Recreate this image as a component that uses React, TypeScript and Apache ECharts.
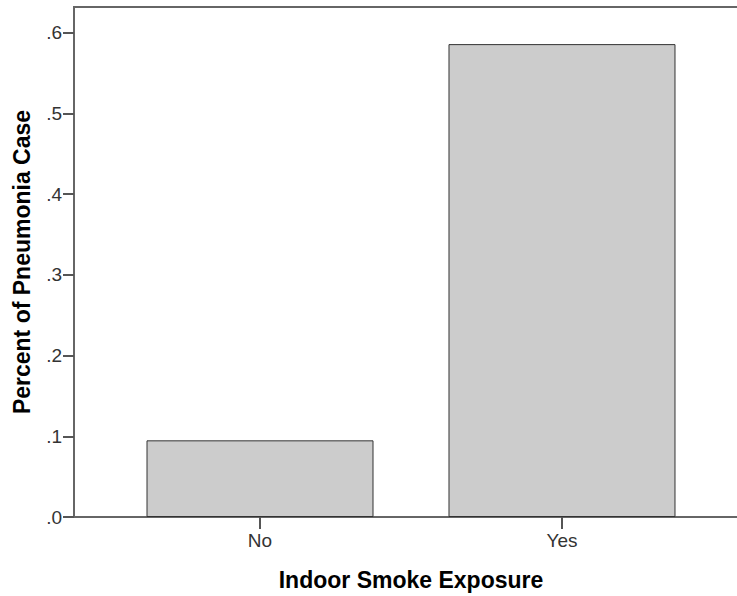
import React, { useEffect, useRef } from "react";
import * as echarts from "echarts";

const categories = ["No", "Yes"];
const values = [0.095, 0.586];
const yTicks = [0, 0.1, 0.2, 0.3, 0.4, 0.5, 0.6];
const xTitle = "Indoor Smoke Exposure";
const yTitle = "Percent of Pneumonia Case";

export default function App() {
  const ref = useRef<HTMLDivElement>(null);
  useEffect(() => {
    if (!ref.current) return;
    const chart = echarts.init(ref.current, null, { renderer: "svg" });
    const font = "'Liberation Sans', Arial, sans-serif";
    const catIdx = categories.map((_, i) => i);
    chart.setOption({
      animation: false,
      grid: {
        left: 74,
        right: 12,
        top: 7,
        bottom: 76,
        show: true,
        borderColor: "#666",
        borderWidth: 2,
        backgroundColor: "transparent",
      },
      xAxis: {
        type: "value",
        min: -0.616,
        max: 1.616,
        name: xTitle,
        nameLocation: "middle",
        nameGap: 51,
        nameTextStyle: { fontFamily: font, fontSize: 23, fontWeight: "bold", color: "#000" },
        axisLine: { show: true, onZero: false, lineStyle: { color: "#666", width: 2 } },
        axisTick: { show: true, length: 12, customValues: catIdx, lineStyle: { color: "#555", width: 2 } },
        axisLabel: {
          customValues: catIdx,
          margin: 14,
          fontFamily: font,
          fontSize: 19,
          color: "#333",
          formatter: (v: number) => categories[Math.round(v)] ?? "",
        },
        splitLine: { show: false },
      },
      yAxis: {
        type: "value",
        min: 0,
        max: 0.632,
        name: yTitle,
        nameLocation: "middle",
        nameGap: 41,
        nameTextStyle: { fontFamily: font, fontSize: 23, fontWeight: "bold", color: "#000" },
        axisLine: { show: true, onZero: false, lineStyle: { color: "#666", width: 2 } },
        axisTick: { show: true, length: 11, customValues: yTicks, lineStyle: { color: "#555", width: 2 } },
        axisLabel: {
          customValues: yTicks,
          margin: 12,
          fontFamily: font,
          fontSize: 19,
          color: "#333",
          formatter: (v: number) => v.toFixed(1).replace(/^0\./, "."),
        },
        splitLine: { show: false },
      },
      series: [
        {
          type: "bar",
          barWidth: 227,
          data: values.map((v, i) => [i, v]),
          itemStyle: { color: "#cccccc", borderColor: "#333", borderWidth: 1 },
        },
      ],
    });
    return () => chart.dispose();
  }, []);
  return (
    <div style={{ position: "absolute", left: 0, top: 0, width: 737, height: 596, overflow: "hidden", background: "#fff" }}>
      <div ref={ref} style={{ width: 760, height: 596 }} />
    </div>
  );
}
